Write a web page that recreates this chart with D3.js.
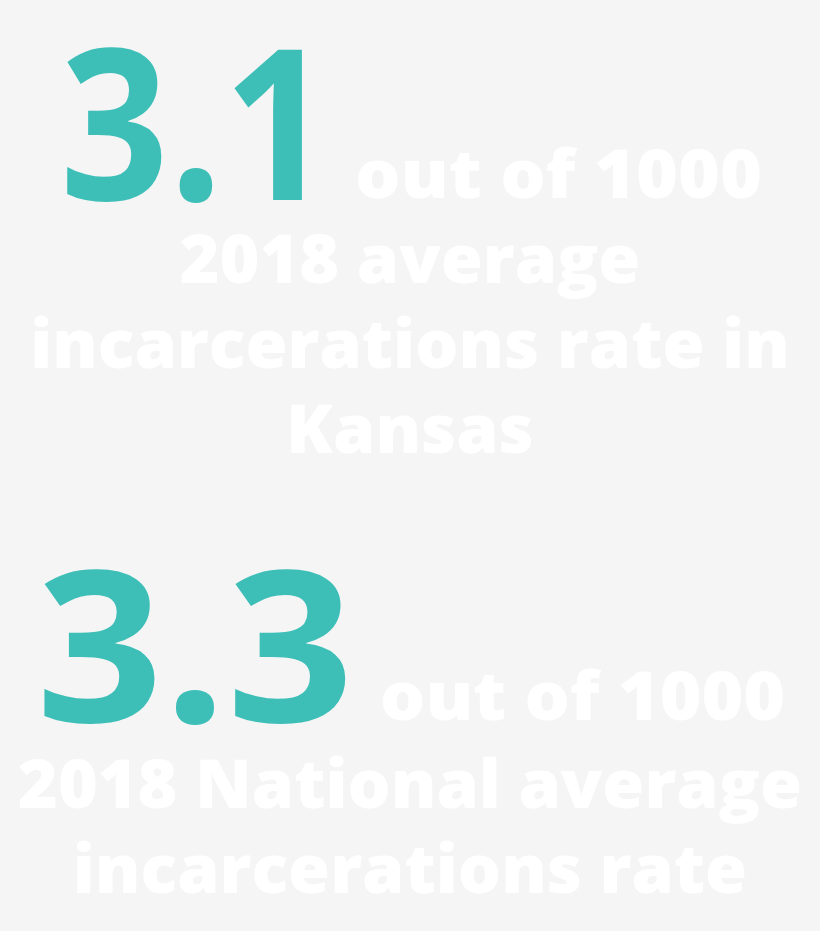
<!DOCTYPE html>
<html><head><meta charset="utf-8">
<script src="https://cdn.jsdelivr.net/npm/d3@7"></script>
<style>body{margin:0;background:#f5f5f5}</style>
</head><body>
<script>
var values = ["3.1", "3.3"];
var unitLabels = ["out of 1000", "out of 1000"];
var captions = [
  ["2018 average", "incarcerations rate in", "Kansas"],
  ["2018 National average", "incarcerations rate"]
];

var svg = d3.select("body").append("svg")
  .attr("width", 820).attr("height", 931);
svg.append("rect").attr("width", 820).attr("height", 931).attr("fill", "#f5f5f5");

// layout per block: big number x/baseline, unit x, caption baseline start
var layout = [
  {nx: 60, ny: 200, nw: 272, ux: 355, uw: 407, cy: 283},
  {nx: 36, ny: 722, nw: 318, ux: 380, uw: 405, cy: 808}
];

var blocks = svg.selectAll("g.block")
  .data(values.map(function(v, i) { return {v: v, unit: unitLabels[i], cap: captions[i], l: layout[i]}; }))
  .enter().append("g").classed("block", true);

blocks.append("text")
  .attr("x", function(d) { return d.l.nx; })
  .attr("y", function(d) { return d.l.ny; })
  .attr("textLength", function(d) { return d.l.nw; })
  .attr("lengthAdjust", "spacingAndGlyphs")
  .style("font", "700 210px 'Open Sans', sans-serif")
  .style("fill", "#3dbfb8")
  .text(function(d) { return d.v; });

blocks.append("text")
  .attr("x", function(d) { return d.l.ux; })
  .attr("y", function(d) { return d.l.ny - 2; })
  .attr("textLength", function(d) { return d.l.uw; })
  .attr("lengthAdjust", "spacingAndGlyphs")
  .style("font", "800 68px 'Open Sans', sans-serif")
  .style("fill", "#ffffff")
  .text(function(d) { return d.unit; });

blocks.each(function(d) {
  d3.select(this).selectAll("text.cap")
    .data(d.cap)
    .enter().append("text").classed("cap", true)
    .attr("x", 410)
    .attr("y", function(c, i) { return d.l.cy + i * 85; })
    .attr("text-anchor", "middle")
    .style("font", "800 68px 'Open Sans', sans-serif")
    .style("fill", "#ffffff")
    .text(function(c) { return c; });
});
</script>
</body></html>
